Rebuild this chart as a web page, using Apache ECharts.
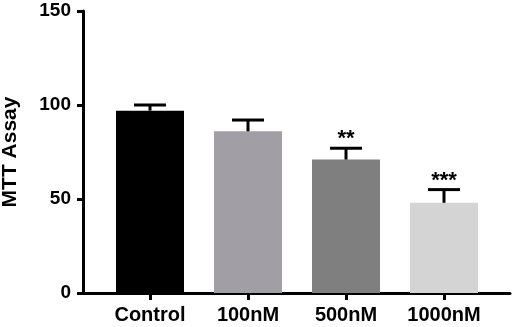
<!DOCTYPE html>
<html>
<head>
<meta charset="utf-8">
<script src="https://cdn.jsdelivr.net/npm/echarts@6/dist/echarts.min.js"></script>
<style>
  html, body { margin: 0; padding: 0; background: #fff; }
  #chart { width: 512px; height: 327px; }
</style>
</head>
<body>
<div id="chart"></div>
<script>
// data
const groups = ['Control', '100nM', '500nM', '1000nM'];
const means = [97, 86, 71, 48];
const errors = [3, 6, 6, 7];
const stars = ['', '', '**', '***'];
const barColors = ['#000000', '#a19fa5', '#7f7f7f', '#d4d4d4'];
const yTicks = [0, 50, 100, 150];

const font = 'Liberation Sans, Arial, Helvetica, sans-serif';
const chart = echarts.init(document.getElementById('chart'));

const black = { color: '#000', width: 3 };

const option = {
  animation: false,
  backgroundColor: '#fff',
  grid: [
    // frame: carries the axis lines, a bit wider than the bars
    { left: 83, right: 2, top: 11, bottom: 34, outerBoundsMode: 'none', containLabel: false },
    // bars
    { left: 101, right: 19, top: 11, bottom: 34, outerBoundsMode: 'none', containLabel: false }
  ],
  xAxis: [
    {
      gridIndex: 0,
      type: 'value',
      min: 0,
      max: 1,
      splitLine: { show: false },
      axisLine: { onZero: false, lineStyle: black },
      axisTick: { show: false },
      axisLabel: { show: false }
    },
    {
      gridIndex: 1,
      type: 'category',
      data: groups,
      axisLine: { show: false },
      axisTick: { show: true, alignWithLabel: true, length: 7, lineStyle: black },
      axisLabel: { interval: 0, margin: 12, color: '#000', fontSize: 20, fontWeight: 'bold', fontFamily: font }
    }
  ],
  yAxis: [
    {
      gridIndex: 0,
      type: 'value',
      min: yTicks[0],
      max: yTicks[yTicks.length - 1],
      interval: 50,
      name: 'MTT Assay',
      nameLocation: 'middle',
      nameRotate: 90,
      nameGap: 62,
      nameTextStyle: { color: '#000', fontSize: 21, fontWeight: 'bold', fontFamily: font },
      splitLine: { show: false },
      axisLine: { show: true, onZero: false, lineStyle: black },
      axisTick: { show: true, length: 6, lineStyle: black },
      axisLabel: { margin: 12, color: '#000', fontSize: 19, fontWeight: 'bold', fontFamily: font }
    },
    {
      gridIndex: 1,
      type: 'value',
      min: yTicks[0],
      max: yTicks[yTicks.length - 1],
      show: false
    }
  ],
  series: [
    {
      type: 'bar',
      xAxisIndex: 1,
      yAxisIndex: 1,
      barWidth: 68,
      data: means.map((m, i) => ({ value: m, itemStyle: { color: barColors[i] } }))
    },
    {
      type: 'custom',
      xAxisIndex: 1,
      yAxisIndex: 1,
      z: 10,
      data: means.map((m, i) => [i, m, errors[i]]),
      renderItem: (params, api) => {
        const i = api.value(0);
        const top = api.coord([i, api.value(1)]);
        const hi = api.coord([i, api.value(1) + api.value(2)]);
        const half = 16;
        const style = { stroke: '#000', lineWidth: 3 };
        const children = [
          { type: 'line', shape: { x1: top[0], y1: top[1], x2: hi[0], y2: hi[1] }, style },
          { type: 'line', shape: { x1: hi[0] - half, y1: hi[1], x2: hi[0] + half, y2: hi[1] }, style }
        ];
        if (stars[params.dataIndex]) {
          children.push({
            type: 'text',
            style: {
              text: stars[params.dataIndex],
              x: hi[0], y: hi[1] - 9,
              align: 'center', verticalAlign: 'middle',
              fill: '#000', fontSize: 22, fontWeight: 'bold', fontFamily: font
            }
          });
        }
        return { type: 'group', children };
      }
    }
  ]
};

chart.setOption(option);
</script>
</body>
</html>
